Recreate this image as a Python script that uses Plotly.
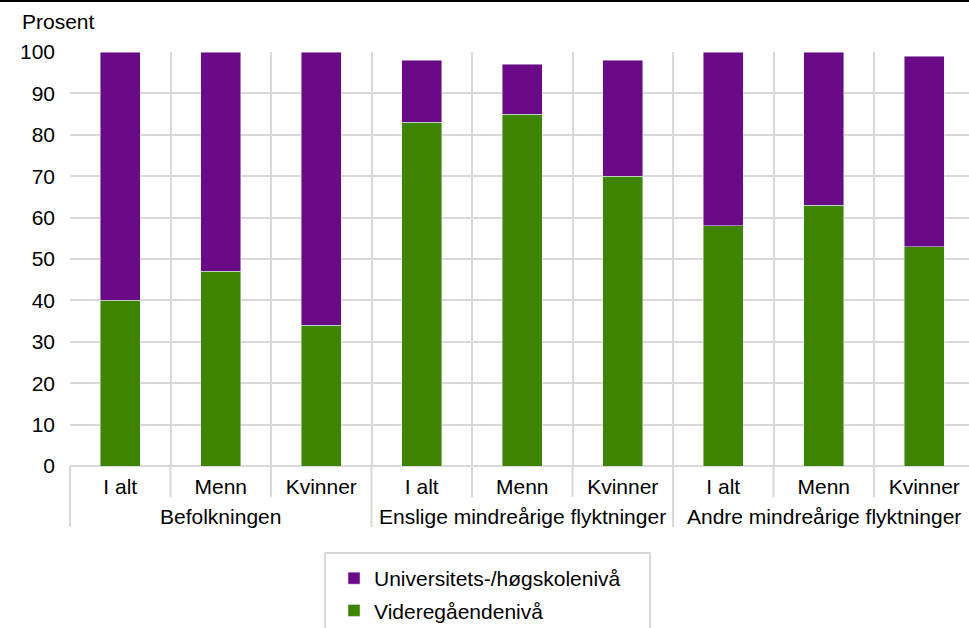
import plotly.graph_objects as go

groups = ["Befolkningen", "Enslige mindreårige flyktninger", "Andre mindreårige flyktninger"]
subgroups = ["I alt", "Menn", "Kvinner"]
videregaende = [40, 47, 34, 83, 85, 70, 58, 63, 53]
universitet = [60, 53, 66, 15, 12, 28, 42, 37, 46]

PURPLE = "#690a87"
GREEN = "#3e8400"
GRID = "#d9d9d9"
FONT = "Liberation Sans, Arial, sans-serif"
FS = 21

# plot area in pixels
W, H = 969, 628
L, T, B = 70, 52, 162
plot_w = W - L
plot_h = H - T - B
cat_w = 100.5


def px_x(px):
    return (px - L) / plot_w


def px_y(py):
    return (H - B - py) / plot_h


# one unique category per bar, shown with the sub-group name
keys = [f"{g}|{s}" for g in groups for s in subgroups]
labels = [s for g in groups for s in subgroups]

fig = go.Figure()
fig.add_bar(x=keys, y=videregaende, name="Videregåendenivå",
            marker_color=GREEN, legendgroup="b", legendrank=2)
fig.add_bar(x=keys, y=universitet, name="Universitets-/høgskolenivå",
            marker_color=PURPLE, legendgroup="a", legendrank=1)

# tick marks below the axis: short between sub-groups, long between groups
shapes = []
n_sub = len(subgroups)
for k in range(len(keys) + 1):
    xp = px_x(L + k * cat_w)
    depth = 61 if k % n_sub == 0 else 31
    shapes.append(dict(type="line", xref="paper", yref="paper", x0=xp, x1=xp,
                       y0=0, y1=px_y(H - B + depth), line=dict(color=GRID, width=2)))
shapes += [
    dict(type="rect", xref="paper", yref="paper", x0=px_x(325), x1=px_x(650),
         y0=px_y(553), y1=px_y(645), line=dict(color=GRID, width=2)),
    dict(type="line", xref="paper", yref="paper", x0=-0.2, x1=1.2,
         y0=px_y(1), y1=px_y(1), line=dict(color="black", width=2)),
]

annotations = [dict(text="Prosent", xref="paper", yref="paper", x=px_x(20), y=px_y(22),
                    xanchor="left", yanchor="middle", showarrow=False)]
for i, g in enumerate(groups):
    annotations.append(dict(text=g, xref="x", yref="paper", x=keys[i * n_sub + 1],
                            y=px_y(516), xanchor="center", yanchor="middle",
                            showarrow=False))

fig.update_layout(
    width=W, height=H,
    barmode="stack", bargap=0.6,
    plot_bgcolor="white", paper_bgcolor="white",
    font=dict(family=FONT, size=FS, color="black"),
    margin=dict(l=L, r=0, t=T, b=B, pad=0, autoexpand=False),
    legend=dict(x=px_x(334), y=px_y(558), xanchor="left", yanchor="top",
                bgcolor="rgba(0,0,0,0)", tracegroupgap=2,
                font=dict(size=FS)),
    annotations=annotations,
    shapes=shapes,
)
fig.update_xaxes(
    type="category", range=[-0.5, -0.5 + plot_w / cat_w],
    tickvals=keys, ticktext=labels,
    showgrid=True, gridcolor=GRID, gridwidth=2, tickson="boundaries",
    ticks="", ticklabelstandoff=6, showline=False,
)
fig.update_yaxes(
    range=[0, 100], dtick=10, showgrid=True, gridcolor=GRID, gridwidth=2,
    zeroline=True, zerolinecolor=GRID, zerolinewidth=2,
    ticks="", ticklabelstandoff=14,
)

fig.write_html("out.html", config={"displayModeBar": False},
               post_script="document.body.style.margin='0';")
